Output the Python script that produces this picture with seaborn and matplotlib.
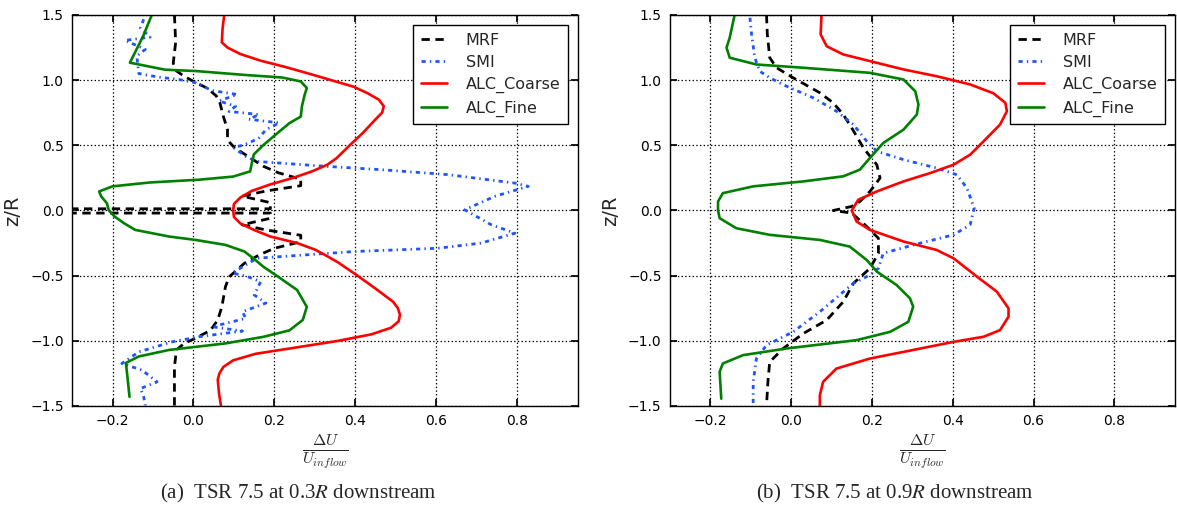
import matplotlib
matplotlib.use("Agg")
import matplotlib.pyplot as plt
import seaborn as sns

# --- values: du = dU/U_inflow, z = z/R ---

# (a) TSR 7.5 at 0.3R downstream
a_mrf_z = [1.5, 1.29, 1.13, 1.07, 1.03, 0.99, 0.94, 0.88, 0.83, 0.72, 0.62, 0.54, 0.48, 0.415,
           0.34, 0.29, 0.24, 0.19, 0.15, 0.11, 0.06, 0.013, 0.013, -0.02, -0.02, -0.06, -0.11,
           -0.15, -0.19, -0.24, -0.29, -0.34, -0.405, -0.51, -0.585, -0.74, -0.84, -0.92, -0.98,
           -1.02, -1.07, -1.2, -1.5]
a_mrf_du = [-0.047, -0.044, -0.05, -0.042, -0.023, 0.0, 0.033, 0.056, 0.065, 0.074, 0.084, 0.084,
            0.102, 0.135, 0.172, 0.209, 0.265, 0.265, 0.18, 0.12, 0.19, 0.19, -0.6, -0.6, 0.19,
            0.19, 0.12, 0.18, 0.265, 0.265, 0.2, 0.163, 0.126, 0.088, 0.079, 0.07, 0.06, 0.042,
            0.005, -0.023, -0.042, -0.047, -0.047]

a_smi_z = [1.467, 1.40, 1.33, 1.305, 1.236, 1.185, 1.05, 1.023, 1.005, 0.98, 0.92, 0.89, 0.84,
           0.80, 0.76, 0.736, 0.70, 0.672, 0.62, 0.557, 0.518, 0.48, 0.415, 0.377, 0.34, 0.313,
           0.275, 0.21, 0.185, 0.108, 0.005, -0.11, -0.174, -0.25, -0.29, -0.315, -0.354, -0.366,
           -0.418, -0.48, -0.507, -0.546, -0.648, -0.71, -0.777, -0.828, -0.892, -0.925, -0.969,
           -1.008, -1.085, -1.174, -1.225, -1.315, -1.366, -1.43, -1.495]
a_smi_du = [-0.123, -0.131, -0.107, -0.169, -0.119, -0.14, -0.135, -0.086, -0.036, 0.005, 0.046,
            0.108, 0.063, 0.104, 0.088, 0.162, 0.137, 0.212, 0.179, 0.162, 0.137, 0.1, 0.129,
            0.154, 0.32, 0.463, 0.629, 0.794, 0.827, 0.744, 0.67, 0.736, 0.794, 0.711, 0.604,
            0.397, 0.215, 0.157, 0.129, 0.096, 0.133, 0.166, 0.15, 0.179, 0.121, 0.129, 0.046,
            0.121, 0.013, -0.053, -0.135, -0.177, -0.127, -0.09, -0.131, -0.123, -0.119]

a_coarse_z = [1.5, 1.4, 1.29, 1.25, 1.2, 1.15, 1.1, 1.05, 1.0, 0.95, 0.9, 0.85, 0.8, 0.75, 0.7,
              0.6, 0.5, 0.4, 0.35, 0.3, 0.25, 0.2, 0.15, 0.1, 0.05, 0.0, -0.05, -0.1, -0.15, -0.2,
              -0.25, -0.3, -0.35, -0.4, -0.5, -0.6, -0.7, -0.75, -0.8, -0.85, -0.9, -0.95, -1.0,
              -1.05, -1.1, -1.15, -1.2, -1.25, -1.3, -1.4, -1.5]
a_coarse_du = [0.076, 0.072, 0.07, 0.084, 0.116, 0.165, 0.228, 0.285, 0.34, 0.395, 0.43, 0.458,
               0.47, 0.466, 0.45, 0.42, 0.386, 0.353, 0.33, 0.293, 0.246, 0.19, 0.144, 0.116,
               0.10, 0.098, 0.10, 0.116, 0.15, 0.19, 0.256, 0.30, 0.33, 0.358, 0.405, 0.45, 0.493,
               0.505, 0.51, 0.507, 0.488, 0.44, 0.358, 0.256, 0.153, 0.098, 0.074, 0.064, 0.06,
               0.063, 0.068]

a_fine_z = [1.5, 1.34, 1.134, 1.08, 1.07, 1.04, 1.02, 0.99, 0.94, 0.88, 0.8, 0.72, 0.67, 0.6, 0.5,
            0.43, 0.36, 0.3, 0.26, 0.236, 0.215, 0.185, 0.146, 0.108, 0.056, 0.0, -0.046, -0.097,
            -0.149, -0.2, -0.226, -0.264, -0.315, -0.38, -0.43, -0.51, -0.61, -0.74, -0.84, -0.92,
            -0.97, -1.02, -1.07, -1.12, -1.17, -1.28, -1.43]
a_fine_du = [-0.103, -0.124, -0.157, -0.07, 0.005, 0.126, 0.22, 0.265, 0.28, 0.274, 0.268, 0.265,
             0.237, 0.21, 0.172, 0.149, 0.144, 0.14, 0.098, 0.014, -0.107, -0.2, -0.233, -0.228,
             -0.214, -0.209, -0.195, -0.172, -0.144, -0.06, 0.005, 0.079, 0.126, 0.153, 0.172,
             0.21, 0.256, 0.28, 0.27, 0.237, 0.172, 0.079, -0.06, -0.135, -0.167, -0.163, -0.158]

# (b) TSR 7.5 at 0.9R downstream
b_mrf_z = [1.5, 1.351, 1.172, 1.095, 1.018, 0.903, 0.826, 0.736, 0.633, 0.479, 0.351, 0.249,
           0.146, 0.069, 0.031, 0.0, -0.02, -0.123, -0.213, -0.328, -0.444, -0.559, -0.7, -0.841,
           -0.944, -1.059, -1.162, -1.29, -1.495]
b_mrf_du = [-0.061, -0.059, -0.053, -0.036, 0.005, 0.071, 0.104, 0.129, 0.15, 0.179, 0.212, 0.22,
            0.195, 0.17, 0.15, 0.104, 0.15, 0.187, 0.216, 0.216, 0.195, 0.154, 0.129, 0.088, 0.03,
            -0.02, -0.053, -0.057, -0.061]

b_smi_z = [1.479, 1.351, 1.172, 1.069, 1.018, 0.954, 0.864, 0.762, 0.659, 0.531, 0.454, 0.39,
           0.326, 0.274, 0.172, 0.018, -0.11, -0.187, -0.251, -0.328, -0.444, -0.495, -0.559,
           -0.777, -0.931, -1.033, -1.136, -1.315, -1.495]
b_smi_du = [-0.102, -0.098, -0.09, -0.078, -0.053, -0.012, 0.055, 0.112, 0.154, 0.187, 0.212,
            0.278, 0.36, 0.41, 0.435, 0.453, 0.443, 0.402, 0.319, 0.228, 0.216, 0.195, 0.154,
            0.071, 0.005, -0.061, -0.086, -0.094, -0.094]

b_coarse_z = [1.5, 1.35, 1.26, 1.197, 1.146, 1.082, 1.03, 0.967, 0.9, 0.826, 0.762, 0.659, 0.53,
              0.428, 0.351, 0.287, 0.223, 0.146, 0.082, 0.0, -0.085, -0.149, -0.238, -0.303,
              -0.367, -0.508, -0.623, -0.751, -0.815, -0.918, -0.969, -1.008, -1.085, -1.136,
              -1.213, -1.315, -1.418, -1.5]
b_coarse_du = [0.075, 0.073, 0.088, 0.129, 0.195, 0.278, 0.36, 0.443, 0.5, 0.53, 0.534, 0.517,
               0.476, 0.443, 0.402, 0.344, 0.278, 0.212, 0.166, 0.15, 0.162, 0.195, 0.278, 0.36,
               0.402, 0.46, 0.509, 0.538, 0.538, 0.517, 0.476, 0.402, 0.278, 0.195, 0.112, 0.079,
               0.071, 0.071]

b_fine_z = [1.5, 1.326, 1.249, 1.172, 1.12, 1.095, 1.056, 1.005, 0.915, 0.813, 0.736, 0.62, 0.518,
            0.403, 0.313, 0.262, 0.223, 0.185, 0.133, 0.069, 0.0, -0.059, -0.136, -0.187, -0.226,
            -0.277, -0.38, -0.469, -0.572, -0.674, -0.738, -0.854, -0.931, -0.995, -1.059, -1.11,
            -1.174, -1.238, -1.444]
b_fine_du = [-0.14, -0.152, -0.16, -0.152, -0.086, 0.03, 0.195, 0.278, 0.307, 0.315, 0.311, 0.278,
             0.228, 0.195, 0.17, 0.129, 0.03, -0.094, -0.169, -0.181, -0.181, -0.177, -0.136,
             -0.053, 0.071, 0.145, 0.187, 0.212, 0.261, 0.294, 0.302, 0.29, 0.245, 0.162, -0.012,
             -0.119, -0.169, -0.177, -0.173]

case_names = ["MRF", "SMI", "ALC_Coarse", "ALC_Fine"]
case_styles = {
    "MRF": dict(color="black", linewidth=2.0, linestyle=(0, (6, 4))),
    "SMI": dict(color="#1f55ff", linewidth=2.0, linestyle=(0, (3, 3, 1, 3))),
    "ALC_Coarse": dict(color="red", linewidth=1.9, linestyle="-"),
    "ALC_Fine": dict(color="green", linewidth=1.9, linestyle="-"),
}

panels = [
    ("(a)  TSR 7.5 at 0.3$R$ downstream",
     [(a_mrf_du, a_mrf_z), (a_smi_du, a_smi_z), (a_coarse_du, a_coarse_z), (a_fine_du, a_fine_z)]),
    ("(b)  TSR 7.5 at 0.9$R$ downstream",
     [(b_mrf_du, b_mrf_z), (b_smi_du, b_smi_z), (b_coarse_du, b_coarse_z), (b_fine_du, b_fine_z)]),
]

sns.set_theme(context="notebook", style="ticks", rc={
    "axes.grid": True,
    "grid.linestyle": ":",
    "grid.color": "black",
    "grid.linewidth": 0.9,
    "axes.edgecolor": "black",
    "axes.linewidth": 1.0,
    "xtick.direction": "in",
    "ytick.direction": "in",
    "xtick.top": True,
    "ytick.right": True,
    "xtick.major.size": 5,
    "ytick.major.size": 5,
    "xtick.color": "black",
    "ytick.color": "black",
    "lines.scale_dashes": False,
})
plt.rcParams["font.family"] = ["DejaVu Sans"]

fig = plt.figure(figsize=(11.77, 5.09), dpi=100)
ax_boxes = [[0.0612, 0.2024, 0.4299, 0.7682], [0.5692, 0.2024, 0.4291, 0.7682]]
caption_x = [0.253, 0.760]

for (caption, curves), box, cx in zip(panels, ax_boxes, caption_x):
    ax = fig.add_axes(box)
    for name, (du, z) in zip(case_names, curves):
        sns.lineplot(x=du, y=z, ax=ax, sort=False, estimator=None, legend=False,
                     **case_styles[name])

    ax.set_xlim(-0.3, 0.95)
    ax.set_ylim(-1.5, 1.5)
    ax.set_xticks([-0.2, 0.0, 0.2, 0.4, 0.6, 0.8])
    ax.set_yticks([-1.5, -1.0, -0.5, 0.0, 0.5, 1.0, 1.5])
    ax.tick_params(labelsize=10, pad=6)
    ax.set_xlabel(r"$\frac{\Delta U}{U_{inflow}}$", fontsize=16.5, math_fontfamily="cm", labelpad=3)
    ax.set_ylabel("z/R", fontsize=14, labelpad=6)

    leg = ax.legend(ax.get_lines(), case_names, loc="upper right", fontsize=11.5,
                    frameon=True, fancybox=False, framealpha=1, edgecolor="black",
                    borderaxespad=0.6, handlelength=1.6, handletextpad=1.2,
                    labelspacing=0.45, borderpad=0.5)
    leg.get_frame().set_linewidth(1.0)

    fig.text(cx, 0.031, caption, ha="center", va="center", fontsize=15,
             family="Liberation Serif", math_fontfamily="stix")

fig.savefig("out.png", dpi=100)
